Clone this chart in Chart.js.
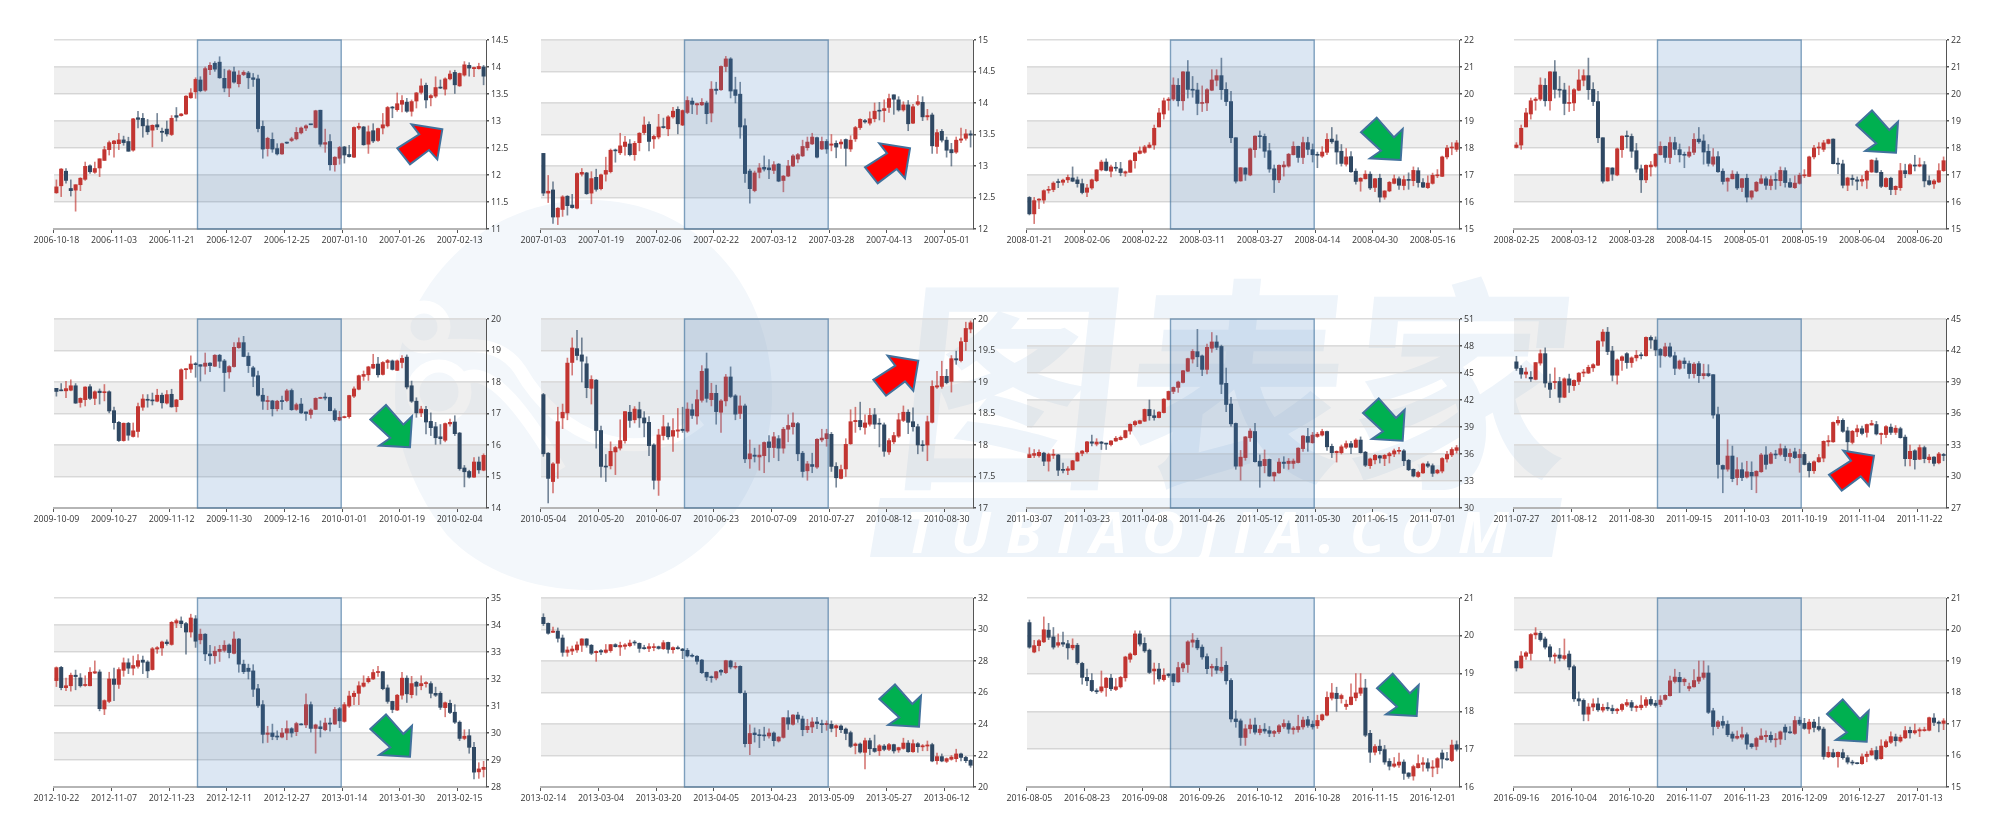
<!DOCTYPE html>
<html>
<head>
<meta charset="utf-8">
<title>K-line panels</title>
<script src="https://cdn.jsdelivr.net/npm/chart.js@4/dist/chart.umd.min.js"></script>
<style>
  html, body { margin: 0; padding: 0; background: #fff; width: 2000px; height: 828px; overflow: hidden; }
  canvas { position: absolute; }
  svg { position: absolute; left: 0; top: 0; }
</style>
</head>
<body>
<svg width="2000" height="828">
  <path d="M590 200 C700 200 772 290 772 395 C772 500 690 590 590 590 C530 590 480 570 447 535 C420 500 395 450 395 395 C395 290 480 200 590 200 Z" fill="#f3f7fb"/>
  <g fill="none" stroke="#fff" stroke-width="13">
    <circle cx="424" cy="327" r="20"/>
    <circle cx="439" cy="392" r="26"/>
    <path d="M432 346 C470 345 500 340 520 370 C560 440 640 470 700 420"/>
    <path d="M462 380 C490 360 530 420 560 470"/>
  </g>
  <g fill="#eef4fa">
    <text x="880" y="470" font-family="Noto Sans CJK SC" font-weight="700" font-size="225" transform="translate(60 0) skewX(-6)">图表家</text>
    <path d="M880 498 H1562 L1552 557 H870 Z"/>
  </g>
  <text x="905" y="553" font-family="Open Sans" font-style="italic" font-weight="700" font-size="58" letter-spacing="15" fill="#fff">TUBIAOJIA.COM</text>
</svg>
<div id="charts"></div>
<svg id="arrows" width="2000" height="828"></svg>
<script>
// open, close, low, high per trading day
const candles2006 = [
[11.67,11.78,11.66,11.91],[11.8,12.11,11.6,12.12],[12.07,11.9,11.85,12.12],[11.75,11.71,11.61,11.91],[11.72,11.82,11.33,11.82],[11.82,11.94,11.71,11.95],[11.92,12.16,11.9,12.24],[12.17,12.06,12.03,12.19],[12.05,12.12,12.03,12.24],[12.13,12.3,11.97,12.3],
[12.27,12.47,12.27,12.53],[12.47,12.6,12.37,12.63],[12.58,12.63,12.33,12.64],[12.58,12.65,12.47,12.77],[12.65,12.6,12.55,12.72],[12.62,12.44,12.44,12.7],[12.46,13.04,12.44,13.05],[13.06,13.03,12.87,13.18],[13.05,12.91,12.7,13.14],[12.91,12.8,12.75,13.03],
[12.83,12.92,12.52,12.93],[12.93,12.89,12.84,13.14],[12.81,12.79,12.62,12.87],[12.85,12.76,12.72,13],[12.75,13.05,12.73,13.1],[13.1,13.07,13,13.25],[13.1,13.13,13.09,13.14],[13.13,13.46,13.12,13.47],[13.43,13.52,13.42,13.6],[13.54,13.77,13.42,13.8],
[13.76,13.56,13.54,13.82],[13.57,13.97,13.55,14],[13.95,14.03,13.86,14.08],[14.07,13.96,13.92,14.1],[14.09,13.8,13.79,14.19],[13.79,13.61,13.54,13.96],[13.61,13.93,13.45,13.95],[13.91,13.72,13.7,14],[13.69,13.85,13.63,13.93],[13.86,13.9,13.84,13.93],
[13.89,13.8,13.6,13.92],[13.8,13.77,13.64,13.88],[13.78,12.86,12.8,13.85],[12.9,12.48,12.31,13],[12.49,12.68,12.35,12.7],[12.66,12.48,12.42,12.78],[12.49,12.39,12.37,12.58],[12.39,12.58,12.38,12.59],[12.6,12.59,12.58,12.61],[12.64,12.67,12.62,12.7],
[12.67,12.79,12.65,12.88],[12.78,12.87,12.76,12.89],[12.87,12.91,12.82,12.93],[12.94,12.93,12.93,12.94],[12.88,13.19,12.87,13.2],[13.2,12.57,12.53,13.2],[12.57,12.6,12.42,12.85],[12.62,12.19,12.09,12.75],[12.19,12.33,12.07,12.34],[12.31,12.51,12.2,12.53],
[12.52,12.37,12.22,12.53],[12.38,12.34,12.33,12.55],[12.33,12.88,12.32,12.89],[12.87,12.9,12.84,12.96],[12.89,12.56,12.55,12.9],[12.57,12.8,12.4,12.91],[12.82,12.63,12.6,12.95],[12.64,12.86,12.62,12.87],[12.87,12.93,12.76,13.14],[12.91,13.25,12.89,13.27],
[13.25,13.24,13.06,13.27],[13.21,13.32,13.18,13.52],[13.31,13.38,13.17,13.47],[13.35,13.18,13.16,13.42],[13.18,13.36,13.09,13.39],[13.37,13.52,13.24,13.53],[13.53,13.65,13.5,13.78],[13.66,13.39,13.24,13.7],[13.43,13.47,13.28,13.49],[13.46,13.62,13.43,13.82],
[13.62,13.61,13.6,13.76],[13.59,13.78,13.48,13.8],[13.78,13.87,13.76,13.93],[13.9,13.67,13.51,13.94],[13.65,13.88,13.64,13.89],[13.85,14.04,13.83,14.1],[14.03,13.98,13.83,14.08],[13.97,13.99,13.82,14],[13.97,14.01,13.96,14.07],[14,13.83,13.67,14.03],
[13.84,14.22,13.7,14.34],[14.22,14.2,14.14,14.33],[14.21,14.58,14.2,14.59],[14.58,14.7,14.5,14.74],[14.7,14.19,14.08,14.72],[14.21,14.12,14,14.41],[14.14,13.62,13.44,14.33],[13.64,12.88,12.74,13.75],[12.92,12.64,12.41,12.95],[12.61,12.89,12.59,12.92],
[12.9,12.97,12.81,13.04],[12.98,12.95,12.92,13.16],[12.97,12.94,12.8,13.1],[12.93,13.02,12.88,13.07],[13.03,12.76,12.75,13.04],[12.77,12.84,12.59,12.85],[12.84,13,12.83,13.09],[13,13.16,12.99,13.18],[13.11,13.18,13.05,13.2],[13.16,13.31,13.15,13.41],
[13.29,13.38,13.25,13.46],[13.35,13.46,13.34,13.52],[13.45,13.14,13.13,13.46],[13.27,13.39,13.26,13.46],[13.39,13.27,13.2,13.42],[13.33,13.35,13.24,13.5],[13.36,13.3,13.13,13.4],[13.35,13.38,13.28,13.42],[13.42,13.28,13,13.43],[13.27,13.41,13.23,13.48],
[13.43,13.61,13.39,13.63],[13.61,13.74,13.58,13.75],[13.72,13.7,13.68,13.74],[13.68,13.75,13.65,13.86],[13.75,13.87,13.7,14],[13.88,13.87,13.73,14.01],[13.88,13.91,13.7,14.05],[13.93,14.07,13.85,14.14],[14.13,14.06,13.82,14.13],[14.05,13.89,13.87,14.1],
[13.89,13.97,13.87,14.02],[13.97,13.67,13.56,14.04],[13.68,13.94,13.67,13.98],[13.98,14.02,13.96,14.12],[14.01,13.78,13.72,14.1],[13.78,13.8,13.73,13.9],[13.81,13.32,13.2,13.84],[13.31,13.53,13.2,13.58],[13.55,13.41,13.38,13.58],[13.41,13.25,13.14,13.46],
[13.26,13.21,13,13.36],[13.22,13.41,13.2,13.46],[13.41,13.43,13.37,13.6],[13.44,13.51,13.41,13.58],[13.51,13.49,13.3,13.56]
];
const candles2008 = [
[16.17,15.56,15.52,16.2],[15.56,16.05,15.2,16.17],[16.07,16.1,15.75,16.13],[16.07,16.42,15.95,16.45],[16.43,16.47,16.33,16.58],[16.46,16.7,16.38,16.75],[16.75,16.72,16.53,16.85],[16.73,16.81,16.62,16.85],[16.82,16.91,16.72,17],[16.89,16.77,16.75,17.3],
[16.82,16.68,16.55,16.93],[16.68,16.35,16.3,16.85],[16.36,16.52,16.2,16.65],[16.52,16.82,16.47,16.85],[16.79,17.19,16.75,17.2],[17.19,17.48,17.15,17.55],[17.48,17.17,17.15,17.6],[17.14,17.3,16.93,17.37],[17.28,17.25,17.15,17.47],[17.23,17.09,16.97,17.47],
[17.07,17.12,16.95,17.15],[17.1,17.53,17.1,17.56],[17.53,17.82,17.25,17.83],[17.8,17.89,17.78,18.04],[17.84,18.04,17.8,18.1],[18.02,18.11,18,18.2],[18.11,18.73,17.95,18.85],[18.78,19.3,18.78,19.47],[19.26,19.75,19.07,19.85],[19.76,19.81,19.4,19.87],
[19.81,20.33,19.75,20.6],[20.32,19.75,19.55,20.57],[19.75,20.82,19.4,20.83],[20.82,20.17,19.85,21.24],[20.17,20.14,19.88,20.65],[20.15,19.65,19.23,20.4],[19.65,19.68,19.35,20.3],[19.67,20.16,19.38,20.2],[20.14,20.52,20.12,20.9],[20.51,20.68,20.3,20.9],
[20.68,20.16,19.8,21.33],[20.17,19.72,19.57,20.42],[19.72,18.38,18.2,20.1],[18.38,16.77,16.7,18.38],[16.78,17.27,16.77,17.27],[17.26,17.03,16.8,17.27],[17,17.97,16.97,18],[17.94,18.44,17.65,18.45],[18.44,18.42,18,18.63],[18.43,17.88,17.65,18.52],
[17.9,17.22,17.1,18.17],[17.23,16.82,16.35,17.37],[16.82,17.36,16.72,17.38],[17.3,17.37,16.96,17.5],[17.33,17.77,17.29,17.8],[17.75,18.06,17.74,18.23],[18.06,17.65,17.47,18.07],[17.65,18.2,17.42,18.4],[18.2,17.95,17.75,18.4],[17.94,17.75,17.48,18.15],
[17.76,17.73,17.27,17.85],[17.7,17.85,17.65,18.05],[17.84,18.32,17.75,18.53],[18.33,18.23,18.17,18.76],[18.26,17.85,17.4,18.49],[17.88,17.43,17.33,18.13],[17.4,17.67,17.33,17.98],[17.68,17.12,17.1,17.87],[17.14,16.76,16.66,17.23],[16.77,16.88,16.4,16.9],
[16.86,17.03,16.85,17.16],[17.03,16.52,16.46,17.12],[16.54,16.86,16.38,16.88],[16.88,16.18,16,17.03],[16.18,16.41,16.1,16.42],[16.41,16.73,16.38,16.76],[16.69,16.86,16.67,17],[16.86,16.62,16.47,16.93],[16.61,16.83,16.45,16.97],[16.83,16.8,16.47,17.08],
[16.79,17.17,16.6,17.3],[17.16,16.72,16.55,17.27],[16.72,16.55,16.53,16.87],[16.53,16.7,16.5,16.97],[16.69,16.99,16.66,17.07],[16.97,17,16.9,17.2],[16.95,17.67,16.94,17.7],[17.67,18,17.6,18.1],[18,18.01,17.75,18.2],[17.95,18.19,17.87,18.28],
[18.17,18.31,18.15,18.33],[18.33,17.42,17.41,18.34],[17.42,17.4,17.05,17.63],[17.41,16.62,16.52,17.55],[16.62,16.89,16.42,16.92],[16.88,16.83,16.62,17],[16.82,16.77,16.45,16.93],[16.77,16.84,16.6,16.98],[16.81,17.14,16.5,17.18],[17.11,17.55,17.1,17.57],
[17.53,17.1,17.08,17.63],[17.1,16.58,16.53,17.17],[16.57,16.87,16.55,16.9],[16.88,16.46,16.27,16.92],[16.46,16.58,16.27,16.6],[16.53,17.16,16.43,17.43],[17.16,17.05,16.9,17.4],[17.04,17.38,17.03,17.42],[17.37,17.33,17.15,17.73],[17.33,17.38,17.3,17.63],
[17.38,16.78,16.56,17.5],[16.79,16.65,16.62,16.97],[16.67,16.78,16.5,16.83],[16.74,17.16,16.72,17.42],[17.16,17.53,17.13,17.67]
];
const candles2009 = [
[17.8,17.7,17.55,17.8],[17.74,17.72,17.72,17.95],[17.72,17.79,17.5,18.02],[17.74,17.88,17.72,18.07],[17.88,17.33,17.32,17.95],[17.35,17.48,17.2,17.5],[17.44,17.84,17.24,17.85],[17.85,17.48,17.44,17.92],[17.48,17.69,17.28,17.72],[17.71,17.66,17.3,17.78],
[17.66,17.69,17.4,17.92],[17.69,17.08,17.02,17.72],[17.09,16.71,16.5,17.2],[16.72,16.14,16.11,16.75],[16.14,16.69,16.12,16.7],[16.69,16.31,16.15,16.72],[16.27,16.45,16.25,16.7],[16.43,17.22,16.25,17.33],[17.2,17.46,17.1,17.6],[17.45,17.42,17.2,17.6],
[17.42,17.4,17.27,17.65],[17.39,17.58,17.37,17.77],[17.58,17.34,17.17,17.65],[17.33,17.6,17.3,17.73],[17.61,17.21,17.2,17.77],[17.22,17.43,17.05,17.45],[17.44,18.39,17.43,18.42],[18.39,18.42,18.1,18.43],[18.41,18.57,18.3,18.83],[18.57,18.55,18.15,18.62],
[18.55,18.5,18.03,18.55],[18.5,18.6,18.25,18.92],[18.6,18.52,18.33,18.62],[18.5,18.85,18.49,18.87],[18.85,18.66,18.45,18.88],[18.67,18.3,17.7,18.72],[18.32,18.49,18.12,18.52],[18.49,19.1,18.47,19.25],[19.09,19.25,19.07,19.4],[19.25,18.81,18.8,19.45],
[18.82,18.52,18.3,18.93],[18.45,18.18,17.85,18.5],[18.2,17.58,17.55,18.35],[17.58,17.39,17.13,17.8],[17.38,17.41,17.12,17.55],[17.4,17.15,16.92,17.42],[17.15,17.39,17.08,17.42],[17.4,17.38,17.13,17.55],[17.41,17.72,17.37,17.77],[17.73,17.12,17.1,17.78],
[17.13,17.28,17.1,17.33],[17.3,17.02,17,17.48],[17.05,17,16.78,17.05],[16.97,17.11,16.85,17.15],[17.13,17.48,17.12,17.5],[17.48,17.5,17.47,17.52],[17.52,17.49,17.43,17.65],[17.51,17.09,17.08,17.52],[17.09,16.8,16.75,17.15],[16.79,16.88,16.77,17.07],
[16.87,16.9,16.86,16.92],[16.9,17.57,16.85,17.58],[17.55,17.78,17.5,17.85],[17.77,18.2,17.75,18.22],[18.18,18.24,18.05,18.35],[18.23,18.48,18.05,18.5],[18.44,18.56,18.42,18.88],[18.57,18.23,18.15,18.78],[18.24,18.62,18.22,18.65],[18.62,18.68,18.43,18.72],
[18.67,18.4,18.38,18.7],[18.37,18.67,18.36,18.7],[18.62,18.75,18.45,18.84],[18.79,17.84,17.78,18.86],[17.88,17.39,17.35,18.03],[17.39,17.02,16.88,17.5],[17.02,17.14,16.9,17.23],[17.13,16.73,16.35,17.23],[16.75,16.55,16.3,17.02],[16.58,16.23,16.02,16.72],
[16.26,16.2,16.03,16.65],[16.15,16.68,16.1,16.7],[16.67,16.72,16.6,16.82],[16.73,16.36,16.3,16.93],[16.38,15.25,15.2,16.4],[15.27,15.15,14.67,15.35],[15.16,14.98,14.95,15.2],[14.98,15.46,14.97,15.6],[15.46,15.21,15.1,15.62],[15.2,15.67,15.18,15.72]
];
const candles2010 = [
[18.8,17.86,17.82,18.82],[17.87,17.47,17.08,17.88],[17.42,17.7,17.24,17.72],[17.71,18.37,17.47,18.6],[18.43,18.52,18.26,18.65],[18.51,19.3,18.4,19.38],[19.31,19.54,19.11,19.7],[19.53,19.42,19.35,19.82],[19.43,19.33,19,19.7],[19.29,18.91,18.75,19.4],
[18.9,19.04,18.65,19.1],[19.03,18.23,17.95,19.04],[18.23,17.66,17.49,18.3],[17.66,17.65,17.42,17.85],[17.67,17.9,17.62,18.05],[17.89,17.96,17.53,17.98],[17.95,18.07,17.92,18.4],[18.07,18.53,18.03,18.53],[18.52,18.39,18.28,18.63],[18.4,18.57,18.35,18.61],
[18.56,18.43,18.28,18.68],[18.43,18.35,18.13,18.53],[18.36,17.99,17.83,18.45],[18,17.44,17.3,18.02],[17.44,18.16,17.2,18.25],[18.15,18.29,18.08,18.47],[18.29,18.13,18.09,18.35],[18.14,18.23,17.9,18.42],[18.22,18.24,18.12,18.58],[18.25,18.23,18.2,18.6],
[18.22,18.57,18.2,18.67],[18.56,18.47,18.42,18.65],[18.46,18.72,18.33,18.87],[18.71,19.17,18.68,19.26],[19.21,18.74,18.68,19.46],[18.72,18.82,18.62,18.98],[18.82,18.53,18.33,18.95],[18.52,18.7,18.2,18.72],[18.7,19.08,18.62,19.12],[19.08,18.77,18.75,19.24],
[18.78,18.49,18.4,18.8],[18.5,18.62,18.42,18.78],[18.62,17.78,17.72,18.65],[17.78,17.86,17.63,18.08],[17.84,17.82,17.73,17.95],[17.81,17.84,17.6,18],[17.83,18.04,17.56,18.05],[18.05,17.96,17.73,18.15],[17.96,18.13,17.8,18.2],[18.1,17.95,17.75,18.15],
[17.95,18.25,17.87,18.28],[18.25,18.31,18.05,18.48],[18.29,18.35,18.17,18.51],[18.34,17.86,17.75,18.36],[17.87,17.58,17.49,17.9],[17.59,17.7,17.44,17.74],[17.69,17.66,17.56,17.87],[17.65,18.09,17.63,18.1],[18.08,18.11,18.05,18.25],[18.1,18.18,17.98,18.25],
[18.17,17.66,17.58,18.2],[17.66,17.48,17.33,17.72],[17.47,17.61,17.46,17.68],[17.62,18.01,17.5,18.1],[18.02,18.37,18.01,18.56],[18.37,18.39,18.2,18.6],[18.39,18.29,18.24,18.68],[18.28,18.35,18.17,18.48],[18.33,18.47,18.3,18.58],[18.48,18.33,18.26,18.58],
[18.34,18.33,17.97,18.42],[18.32,17.9,17.82,18.35],[17.89,18.07,17.85,18.1],[18.05,18.15,18.02,18.2],[18.14,18.4,18.12,18.5],[18.39,18.52,18.37,18.62],[18.52,18.36,18.18,18.56],[18.37,18.29,18.22,18.59],[18.29,18,17.86,18.33],[18,17.99,17.9,18.07],
[18,18.37,17.75,18.46],[18.36,18.93,18.35,19.02],[18.92,18.94,18.9,19.17],[18.93,19.09,18.9,19.33],[19.09,18.99,18.97,19.2],[19.01,19.37,18.84,19.42],[19.37,19.35,19.28,19.49],[19.34,19.64,19.32,19.7],[19.64,19.85,19.5,19.95],[19.84,19.94,19.78,19.97]
];
const candles2011a = [
[35.6,35.93,35.6,36.7],[35.85,36.05,35.6,36.5],[35.82,36.18,35.65,36.45],[36.1,35.2,34.7,36.2],[35.2,35.95,34.1,36.1],[35.85,35.97,35.5,36.5],[35.9,34.2,33.6,35.95],[34.25,34.18,33.9,35],[34.18,34.35,33.7,34.6],[34.25,35.25,34.2,35.3],
[35.22,36.1,35.2,36.2],[36.07,36.33,35.8,36.4],[36.25,37.35,36.1,37.4],[37.35,37.2,36.9,38.1],[37.1,37.33,36.9,37.7],[37.33,37.18,36.5,37.4],[37.18,37.1,36.5,37.2],[37.05,37.45,36.9,37.5],[37.44,37.75,37.4,37.95],[37.6,37.85,37.55,38],
[37.83,38.6,37.75,38.65],[38.55,39.3,38.2,39.35],[39.26,39.6,39.1,39.7],[39.4,39.7,39.35,39.75],[39.65,40.95,39.6,41],[40.95,40.25,39.75,42],[40.25,40.05,39.75,40.9],[40.05,40.65,40,40.7],[40.6,42.1,40.55,42.15],[42.05,42.95,42,43],
[42.95,43.4,42.7,43.45],[43.4,44,42.85,44.1],[43.95,45.25,43.9,45.3],[45.2,46.6,45.15,46.65],[46.55,47.4,46.1,47.6],[47.37,46.8,45.7,49.85],[46.9,45.4,44.7,47],[45.4,47.85,44.9,48.2],[47.75,48.45,47.3,49.5],[48.45,47.85,47.6,49.15],
[47.95,43.75,42.7,48.1],[43.85,41.5,40.7,45.55],[41.55,39.35,39.1,42.3],[39.4,34.65,34.3,39.45],[34.65,35.65,33.1,36.4],[35.6,37.9,35.3,37.95],[37.8,38.55,37.4,38.8],[38.5,35.15,35.1,39.4],[35.2,34.65,32.3,35.9],[34.7,35.4,33.9,36.45],
[35.4,33.55,33.5,35.45],[33.55,33.95,33,34],[33.9,35.1,33.85,35.5],[35.1,34.95,34.4,35.7],[34.95,35.2,34.3,35.5],[34.95,35.22,34.4,35.45],[35.05,36.65,35,36.7],[36.6,38,36.3,38.05],[37.95,37.3,36.3,38.85],[37.25,38.1,37.2,38.4],
[37.95,38.2,37.85,38.4],[38.1,38.5,38,38.75],[38.5,36.8,36.4,38.55],[36.85,36.15,35.6,37.1],[36.15,36.3,35.1,36.35],[36.15,36.8,36,37],[36.75,37.15,36.6,37.45],[37.15,36.75,36.05,37.4],[36.75,37.55,36.7,37.7],[37.55,36.15,36.1,37.9],
[36.2,34.75,34.6,36.3],[34.7,35.45,34.4,35.55],[35.35,35.85,34.9,35.95],[35.8,35.55,35,35.85],[35.5,35.85,34.7,35.95],[35.8,36.05,35,36.2],[36,36.35,35.7,36.55],[36.3,36.4,36,36.75],[36.35,35.25,34.7,36.5],[35.3,34.25,34.15,35.4],
[34.3,33.55,33.45,34.35],[33.5,33.95,33.4,34.1],[33.9,34.9,33.85,35],[34.9,34.65,34.5,35.15],[34.7,33.85,33.5,34.9],[33.9,34.2,33.8,34.3],[34.1,35.5,33.9,35.6],[35.45,35.95,35.1,36.3],[35.9,36.5,35.7,36.7],[36.4,36.7,36.1,36.95]
];
const candles2011b = [
[40.92,40.3,40.1,41.45],[40.3,39.75,39.35,40.55],[39.75,39.95,39.4,40.35],[39.45,39.3,39.05,40],[39.25,40.85,39.2,40.85],[40.8,41.7,40.6,42.05],[41.7,38.9,38.5,42.25],[38.9,38.3,37.5,39.75],[38.95,39.05,38.35,40.35],[39.05,37.55,37.05,39.45],
[37.55,39.3,37.5,39.4],[39.3,38.7,38,39.75],[38.65,39.15,38.2,39.2],[39.05,39.85,38.75,39.9],[39.85,39.95,39.5,40.2],[39.85,40.4,39.8,40.6],[40.35,40.65,40,40.75],[40.6,42.9,40.55,42.95],[42.9,43.75,42.4,44],[43.75,41.9,41.6,44.2],
[41.95,39.65,39.1,42.4],[39.65,41.1,38.8,41.2],[41.05,41.4,40.1,41.5],[41.7,40.85,40.3,41.8],[40.85,41.3,40.4,41.4],[41.3,41.55,41,42],[41.55,41.5,41.2,41.8],[41.5,43.25,41.45,43.3],[43.25,43,42.2,43.4],[43,42.05,41.5,43.3],
[42.1,41.55,40.4,42.2],[41.5,42.35,41.4,42.7],[42.35,41.45,41.35,42.7],[41.5,40.3,39.7,41.85],[40.3,41,40.2,41.1],[41,40.75,40.3,41.3],[40.75,39.8,39.35,41],[39.8,40.7,39.4,40.85],[40.75,39.6,38.95,40.95],[39.6,39.8,39.3,40.7],
[39.8,39.6,39.5,40.65],[39.7,35.85,35.55,39.7],[35.9,31.15,29.85,36.6],[31.05,30.7,28.45,31.1],[30.7,31.95,30.5,33.5],[31.95,29.8,29.5,32.9],[29.9,30.65,29.2,31.8],[30.65,29.9,29.6,31.3],[29.95,30.45,29.85,31.45],[30.4,30.05,28.75,31.4],
[30.05,30.5,28.45,30.55],[30.45,32.05,30.4,32.2],[32.05,31.15,30.7,32.85],[31.25,32.15,31.2,32.3],[32.1,32.05,31.7,32.5],[32.1,32.65,31.95,33.1],[32.65,31.9,31.5,32.9],[31.9,32.2,31.3,32.6],[32.35,31.8,31.7,32.7],[31.8,32.1,30.4,32.6],
[32.1,31.15,31.1,32.3],[31.25,30.55,29.95,31.4],[30.55,31.4,30.3,31.5],[31.4,31.8,31.35,32.1],[31.75,33.35,31.4,33.4],[33.3,33.42,32.9,33.9],[33.3,35.15,33.25,35.2],[35.1,35.35,34.9,35.7],[35.35,34.3,34.2,35.5],[34.35,33.3,32,34.7],
[33.25,34.3,33.1,34.4],[34.25,34.55,33.8,34.9],[34.55,34.1,33.95,34.8],[34.2,34.95,33.75,35],[34.9,35.05,34.9,35.35],[34.95,34.05,33.95,35.25],[34,34.1,33.1,34.15],[34,34.75,33.7,34.85],[34.7,34.2,34,35],[34.2,34.6,34,34.85],
[34.55,33.7,33.65,34.7],[33.75,31.7,31,33.95],[31.7,32.4,31,33],[32.45,31.6,30.7,32.55],[31.65,32.75,31.6,33],[32.75,31.7,31.3,32.9],[31.6,31.85,31.3,32.1],[31.85,31.25,31,31.9],[31.3,32.15,31.2,32.3],[32.1,32,31.5,32.2]
];
const candles2012 = [
[31.94,32.42,31.72,32.45],[32.43,31.68,31.6,32.47],[31.68,31.75,31.57,32.03],[31.75,32.14,31.55,32.22],[32.14,32.09,31.6,32.33],[32.04,31.75,31.7,32.2],[31.76,31.78,31.73,32.12],[31.75,32.25,31.74,32.42],[32.22,32.27,32.2,32.67],[32.26,30.9,30.82,32.34],
[30.89,31.2,30.68,31.23],[31.17,32,31.12,32.25],[32,31.8,31.2,32.4],[31.8,32.35,31.65,32.42],[32.32,32.6,32.1,32.78],[32.6,32.4,32.2,32.75],[32.4,32.5,32.15,32.85],[32.47,32.68,32.4,32.9],[32.7,32.62,32.2,32.85],[32.63,32.3,32.05,32.68],
[32.35,33.12,32.33,33.17],[33.11,33.16,32.95,33.2],[33.15,33.37,32.87,33.4],[33.37,33.31,33.25,33.45],[33.28,34.1,33.25,34.13],[34.07,34.16,33.9,34.22],[34.15,34.05,33.9,34.3],[34.05,33.74,32.92,34.1],[33.74,34.26,33.55,34.4],[34.23,33.4,33.17,34.35],
[33.45,33.66,33.3,33.85],[33.66,32.93,32.68,33.68],[32.93,32.86,32.55,33.25],[32.86,33.03,32.58,33.2],[33.02,33.1,32.65,33.25],[33.06,33.25,33,33.42],[33.26,32.98,32.78,33.3],[32.95,33.48,32.93,33.75],[33.48,32.55,32.25,33.5],[32.55,32.27,32.2,32.7],
[32.4,32.28,32,32.55],[32.3,31.62,31.35,32.53],[31.64,31.02,30.95,31.8],[31.05,29.95,29.63,31.2],[29.95,30,29.65,30.25],[30,29.87,29.75,30.33],[29.87,29.85,29.75,30.08],[29.85,30,29.82,30.17],[30,30.16,29.75,30.45],[30.16,30,29.85,30.2],
[30.05,30.35,29.9,30.4],[30.33,30.3,30.3,30.35],[30.3,31.05,30.2,31.45],[31.05,30.17,30.03,31.15],[30.17,30.3,29.25,30.33],[30.23,30.16,29.85,30.45],[30.12,30.37,30.08,30.55],[30.37,30.33,30.07,30.55],[30.33,30.87,30.32,30.95],[30.9,30.45,30.2,30.95],
[30.43,31.05,30.4,31.13],[31,31.37,30.95,31.55],[31.35,31.47,31.05,31.55],[31.47,31.75,31.05,31.9],[31.73,31.85,31.7,32.12],[31.9,32.02,31.85,32.1],[32,32.24,31.98,32.35],[32.24,32.27,32.1,32.47],[32.27,31.64,31.6,32.28],[31.67,31.17,31.1,31.78],
[31.17,30.87,30.75,31.18],[30.85,31.4,30.83,31.43],[31.4,32.03,31.25,32.25],[32.03,31.45,31.13,32.12],[31.42,31.83,31.3,32.1],[31.88,31.73,31.4,31.92],[31.75,31.83,31.6,32.12],[31.83,31.85,31.7,31.9],[31.83,31.47,31.3,31.9],[31.47,31.4,31.35,31.7],
[31.47,30.95,30.87,31.53],[30.94,31.12,30.6,31.15],[31.1,30.76,30.72,31.22],[30.77,30.4,30.35,31.05],[30.4,29.8,29.72,30.45],[29.8,29.88,29.75,30.12],[29.9,29.47,29.25,30.13],[29.47,28.55,28.3,29.65],[28.56,28.67,28.32,28.9],[28.65,28.73,28.37,28.95]
];
const candles2013 = [
[30.77,30.37,30.25,31],[30.39,29.76,29.7,30.42],[29.82,29.9,29.8,30.15],[29.9,29.44,29.2,30.1],[29.46,28.55,28.3,29.65],[28.55,28.7,28.3,28.9],[28.63,28.76,28.4,28.95],[28.7,29.02,28.55,29.22],[29,29.4,28.6,29.42],[29.4,29,28.87,29.42],
[29,28.49,28.4,29.05],[28.53,28.61,27.98,28.65],[28.66,28.57,28.4,28.72],[28.55,28.7,28.5,29.05],[28.66,29.04,28.55,29.05],[29.04,28.91,28.88,29.1],[28.89,28.99,28.35,29.2],[28.93,29.02,28.75,29.1],[28.97,29.14,28.9,29.33],[29.18,29.14,29,29.3],
[29.12,28.8,28.55,29.15],[28.85,28.78,28.75,29],[28.8,28.91,28.6,29.1],[28.85,28.91,28.65,29.1],[28.91,28.8,28.75,28.95],[28.78,29.16,28.73,29.3],[29.18,28.74,28.5,29.2],[28.72,28.85,28.5,28.9],[28.85,28.78,28.75,28.95],[28.76,28.66,28.15,28.8],
[28.68,28.32,28.25,28.8],[28.36,28.3,28.25,28.45],[28.3,27.98,27.8,28.35],[28.06,27.26,27.2,28.1],[27.28,26.98,26.75,27.3],[27,26.94,26.65,27.05],[26.92,27.32,26.8,27.35],[27.41,27.3,27.1,27.45],[27.26,28.02,27.2,28.05],[28,27.62,27.5,28.05],
[27.6,27.66,27.5,27.9],[27.66,25.99,25.95,27.7],[25.95,22.75,22.55,26.1],[22.75,23.4,22.05,23.95],[23.43,23.32,22.85,23.75],[23.32,23.26,22.5,23.65],[23.3,23.24,22.95,23.8],[23.24,23.43,23.1,23.7],[23.43,22.94,22.6,23.5],[22.92,23.17,22.85,23.2],
[23.15,24.4,23.1,24.42],[24.4,24,23.65,24.85],[23.98,24.57,23.93,24.6],[24.57,24.32,24.1,24.75],[24.32,23.64,23.25,24.5],[23.64,23.85,23.45,24.3],[23.81,24.13,23.45,24.4],[24.13,24.02,23.7,24.42],[24.02,23.96,23.45,24.25],[23.96,24.04,23.6,24.2],
[23.98,23.72,23.5,24.2],[23.75,23.89,23.2,23.95],[23.87,23.64,23.45,23.95],[23.68,23.4,23,23.75],[23.45,22.58,22.5,23.55],[22.63,22.73,22.1,22.8],[22.73,22.22,22.15,22.8],[22.2,22.94,21.15,23.1],[22.94,22.43,22.05,23.1],[22.45,22.26,22.2,23.3],
[22.3,22.62,22,22.7],[22.6,22.39,22.3,22.7],[22.39,22.69,22.3,22.78],[22.69,22.29,22.15,22.72],[22.35,22.5,22.2,22.53],[22.45,22.79,22.4,23.1],[22.79,22.24,22.2,22.95],[22.24,22.75,22.2,23],[22.75,22.56,22.2,22.82],[22.55,22.62,22.3,22.7],
[22.6,22.67,22.3,22.92],[22.69,21.65,21.6,22.78],[21.67,21.93,21.45,22.15],[21.93,21.65,21.6,22.1],[21.63,21.8,21.55,21.85],[21.76,21.9,21.7,22],[21.8,22.1,21.6,22.4],[22.1,21.88,21.65,22.15],[21.88,21.67,21.55,21.95],[21.69,21.38,21.25,21.75]
];
const candles2016 = [
[20.35,19.7,19.67,20.42],[19.57,19.74,19.55,19.88],[19.74,19.87,19.6,19.9],[19.84,20.16,19.82,20.5],[20.15,19.96,19.9,20.33],[19.97,19.7,19.65,20.22],[19.75,19.82,19.7,20.05],[19.82,19.78,19.72,20.1],[19.79,19.68,19.38,19.88],[19.68,19.75,19.63,19.92],
[19.75,19.29,19.25,19.8],[19.27,18.9,18.72,19.3],[18.9,18.81,18.68,19.12],[18.82,18.55,18.52,19],[18.55,18.52,18.47,18.6],[18.54,18.65,18.5,19.07],[18.63,18.88,18.4,18.9],[18.88,18.6,18.55,18.98],[18.58,18.65,18.55,18.87],[18.65,18.9,18.62,18.93],
[18.89,19.44,18.8,19.46],[19.38,19.52,19.3,19.55],[19.5,20.05,19.48,20.13],[20.05,19.78,19.73,20.13],[19.8,19.6,19.56,19.95],[19.62,19.03,19,19.65],[19.07,19.12,18.72,19.28],[19.12,18.86,18.8,19.27],[18.84,18.96,18.8,19.13],[18.99,18.95,18.9,19],
[18.99,18.78,18.68,19],[18.78,19.16,18.77,19.3],[19.15,19.26,19.05,19.3],[19.24,19.84,19.03,19.87],[19.83,19.89,19.7,20.06],[19.88,19.68,19.63,19.94],[19.7,19.44,19.38,19.76],[19.45,19.13,19,19.52],[19.15,19.19,18.93,19.25],[19.19,19.09,19,19.4],
[19.08,19.17,19.03,19.7],[19.22,18.81,18.72,19.32],[18.82,17.8,17.72,18.87],[17.8,17.73,17.58,18.02],[17.75,17.31,17.1,17.8],[17.31,17.54,17.1,17.65],[17.54,17.64,17.42,17.8],[17.64,17.45,17.4,17.82],[17.44,17.53,17.38,17.63],[17.53,17.48,17.42,17.68],
[17.49,17.42,17.33,17.6],[17.42,17.47,17.33,17.5],[17.46,17.62,17.41,17.65],[17.6,17.68,17.55,17.78],[17.68,17.53,17.42,17.75],[17.52,17.56,17.4,17.6],[17.52,17.6,17.45,17.9],[17.59,17.77,17.53,17.85],[17.78,17.63,17.58,17.87],[17.66,17.59,17.53,17.75],
[17.62,17.76,17.55,17.9],[17.78,17.91,17.75,17.93],[17.9,18.37,17.88,18.52],[18.35,18.49,18.3,18.74],[18.48,18.34,18,18.64],[18.34,18.42,18.22,18.46],[18.13,18.19,18.05,18.3],[18.18,18.38,18.17,18.73],[18.36,18.49,18.28,19],[18.48,18.62,18.42,19],
[18.62,17.37,17.33,18.85],[17.42,16.92,16.65,17.5],[16.92,17.07,16.85,17.12],[17.08,16.96,16.87,17.25],[16.99,16.66,16.6,17.1],[16.68,16.55,16.45,16.75],[16.55,16.61,16.52,16.78],[16.58,16.66,16.52,16.9],[16.66,16.36,16.2,16.72],[16.37,16.28,16.23,16.38],
[16.29,16.54,16.18,16.58],[16.51,16.62,16.5,16.85],[16.6,16.64,16.42,16.78],[16.64,16.5,16.42,16.75],[16.5,16.53,16.27,16.7],[16.52,16.75,16.35,16.78],[16.9,16.74,16.5,16.98],[16.75,16.72,16.7,16.92],[16.7,17.11,16.67,17.24],[17.12,17,16.95,17.22],
[17.02,16.86,16.83,17.18],[16.84,17.06,16.7,17.15],[17.06,16.89,16.75,17.15],[16.92,16.83,16.78,17.22],[16.84,15.97,15.88,16.9],[15.96,16.1,15.93,16.28],[16.09,15.96,15.93,16.2],[15.96,16.1,15.63,16.12],[16.09,15.93,15.88,16.2],[15.93,15.79,15.73,16],
[15.79,15.76,15.7,15.85],[15.76,15.74,15.73,15.77],[15.74,15.96,15.72,16.05],[15.97,16.04,15.8,16.12],[16.02,16.15,16,16.23],[16.16,15.89,15.85,16.28],[15.9,16.3,15.88,16.5],[16.28,16.44,16.25,16.5],[16.42,16.6,16.38,16.75],[16.59,16.47,16.3,16.68],
[16.46,16.58,16.42,16.65],[16.56,16.79,16.54,16.92],[16.8,16.72,16.55,16.9],[16.72,16.79,16.68,17],[16.78,16.82,16.6,16.88],[16.79,16.82,16.77,16.9],[16.8,17.2,16.78,17.22],[17.19,17.05,16.95,17.33],[17.06,17.02,16.75,17.1],[17.02,17.1,16.82,17.17]
];

// x axis labels, one every 12 candles
const dates1 = ["2006-10-18","2006-11-03","2006-11-21","2006-12-07","2006-12-25","2007-01-10","2007-01-26","2007-02-13"];
const dates2 = ["2007-01-03","2007-01-19","2007-02-06","2007-02-22","2007-03-12","2007-03-28","2007-04-13","2007-05-01"];
const dates3 = ["2008-01-21","2008-02-06","2008-02-22","2008-03-11","2008-03-27","2008-04-14","2008-04-30","2008-05-16"];
const dates4 = ["2008-02-25","2008-03-12","2008-03-28","2008-04-15","2008-05-01","2008-05-19","2008-06-04","2008-06-20"];
const dates5 = ["2009-10-09","2009-10-27","2009-11-12","2009-11-30","2009-12-16","2010-01-01","2010-01-19","2010-02-04"];
const dates6 = ["2010-05-04","2010-05-20","2010-06-07","2010-06-23","2010-07-09","2010-07-27","2010-08-12","2010-08-30"];
const dates7 = ["2011-03-07","2011-03-23","2011-04-08","2011-04-26","2011-05-12","2011-05-30","2011-06-15","2011-07-01"];
const dates8 = ["2011-07-27","2011-08-12","2011-08-30","2011-09-15","2011-10-03","2011-10-19","2011-11-04","2011-11-22"];
const dates9 = ["2012-10-22","2012-11-07","2012-11-23","2012-12-11","2012-12-27","2013-01-14","2013-01-30","2013-02-15"];
const dates10 = ["2013-02-14","2013-03-04","2013-03-20","2013-04-05","2013-04-23","2013-05-09","2013-05-27","2013-06-12"];
const dates11 = ["2016-08-05","2016-08-23","2016-09-08","2016-09-26","2016-10-12","2016-10-28","2016-11-15","2016-12-01"];
const dates12 = ["2016-09-16","2016-10-04","2016-10-20","2016-11-07","2016-11-23","2016-12-09","2016-12-27","2017-01-13"];

const panels = [
  { rows: candles2006.slice(0, 90), dates: dates1, min: 11, max: 14.5, step: 0.5 },
  { rows: candles2006.slice(55, 145), dates: dates2, min: 12, max: 15, step: 0.5 },
  { rows: candles2008.slice(0, 90), dates: dates3, min: 15, max: 22, step: 1 },
  { rows: candles2008.slice(25, 115), dates: dates4, min: 15, max: 22, step: 1 },
  { rows: candles2009, dates: dates5, min: 14, max: 20, step: 1 },
  { rows: candles2010, dates: dates6, min: 17, max: 20, step: 0.5 },
  { rows: candles2011a, dates: dates7, min: 30, max: 51, step: 3 },
  { rows: candles2011b, dates: dates8, min: 27, max: 45, step: 3 },
  { rows: candles2012, dates: dates9, min: 28, max: 35, step: 1 },
  { rows: candles2013, dates: dates10, min: 20, max: 32, step: 2 },
  { rows: candles2016.slice(0, 90), dates: dates11, min: 16, max: 21, step: 1 },
  { rows: candles2016.slice(30, 120), dates: dates12, min: 15, max: 21, step: 1 }
];

const plotLeft = [54, 541, 1027, 1514];
const plotTop = [40, 319, 598];
const plotW = 432, plotH = 189;
const padL = 30, padT = 8, axisR = 40, axisB = 22;

const upColor = "#c23531", downColor = "#2f4863";
const upWick = "rgba(194,53,49,0.65)", downWick = "rgba(47,72,99,0.65)";

// alternating grey bands between the y ticks, bottom band stays white
const splitBands = {
  id: "splitBands",
  beforeDatasetsDraw(chart) {
    const { ctx, chartArea: a, scales: { y } } = chart;
    const t = y.ticks;
    ctx.save();
    ctx.fillStyle = "rgba(190,190,190,0.25)";
    for (let i = 1; i < t.length - 1; i += 2) {
      const top = y.getPixelForValue(t[i + 1].value), bot = y.getPixelForValue(t[i].value);
      ctx.fillRect(a.left, top, a.width, bot - top);
    }
    ctx.restore();
  }
};

// the window from candle 30 to candle 60, drawn over the candles
const windowBand = {
  id: "windowBand",
  afterDatasetsDraw(chart) {
    const { ctx, chartArea: a, scales: { x } } = chart;
    const half = (x.getPixelForValue(1) - x.getPixelForValue(0)) / 2;
    const left = x.getPixelForValue(30) - half - 0.5;
    const right = x.getPixelForValue(60) - half - 0.8;
    ctx.save();
    ctx.fillStyle = "rgba(70,130,190,0.19)";
    ctx.fillRect(left, a.top, right - left, a.height);
    ctx.strokeStyle = "rgba(65,113,156,0.65)";
    ctx.lineWidth = 1.4;
    ctx.strokeRect(left, a.top, right - left, a.height);
    ctx.restore();
  }
};

const holder = document.getElementById("charts");
panels.forEach((p, n) => {
  const canvas = document.createElement("canvas");
  canvas.width = padL + plotW + axisR;
  canvas.height = padT + plotH + axisB;
  canvas.style.left = (plotLeft[n % 4] - padL) + "px";
  canvas.style.top = (plotTop[Math.floor(n / 4)] - padT) + "px";
  holder.appendChild(canvas);

  const labels = p.rows.map((r, i) => (i % 12 === 0 ? p.dates[i / 12] : ""));
  const isUp = p.rows.map(r => r[1] >= r[0]);

  new Chart(canvas, {
    type: "bar",
    data: {
      labels: labels,
      datasets: [
        {
          data: p.rows.map(r => [r[2], r[3]]),
          backgroundColor: isUp.map(u => (u ? upWick : downWick)),
          barThickness: 1,
          grouped: false,
          order: 2
        },
        {
          data: p.rows.map(r => [r[0], r[1]]),
          backgroundColor: isUp.map(u => (u ? upColor : downColor)),
          barThickness: 3.4,
          minBarLength: 1,
          grouped: false,
          order: 1
        }
      ]
    },
    plugins: [splitBands, windowBand],
    options: {
      responsive: false,
      animation: false,
      layout: { padding: { left: padL, top: padT, right: 0, bottom: 0 } },
      plugins: { legend: { display: false }, tooltip: { enabled: false } },
      scales: {
        x: {
          type: "category",
          offset: true,
          afterFit: s => { s.height = axisB; },
          border: { color: "#b5b5b5", width: 2 },
          grid: {
            offset: true,
            drawOnChartArea: false,
            tickLength: 4,
            tickColor: c => (c.index % 12 === 0 ? "#555" : "rgba(0,0,0,0)")
          },
          ticks: {
            autoSkip: false,
            maxRotation: 0,
            minRotation: 0,
            padding: 2,
            color: "#333",
            font: { family: "Open Sans", size: 8.8 }
          }
        },
        y: {
          position: "right",
          min: p.min,
          max: p.max,
          afterFit: s => { s.width = axisR; },
          border: { color: "#555", width: 1 },
          grid: { color: "#dcdcdc", lineWidth: 1.5, tickLength: 3, tickColor: "#555" },
          ticks: {
            stepSize: p.step,
            padding: 2,
            color: "#333",
            font: { family: "Open Sans", size: 8.8 },
            callback: v => String(v)
          }
        }
      }
    }
  });
});

// block arrows, placed by their tip
const upArrow = [[0,0],[-30.7,-5],[-23,5],[-45,19],[-32.3,35],[-13.3,20.7],[-5,30]];
const downArrow = [[0,0],[-30.7,-1.7],[-19.7,-9.3],[-39.7,-27.7],[-24,-42.3],[-6.7,-22.7],[2,-31]];
const arrowTips = [
  [442.3,129.3,"up"],[910,148.3,"up"],[1400.7,160,"down"],[1896,152.7,"down"],
  [410,447.3,"down"],[918.3,360.7,"up"],[1402.7,440.7,"down"],[1874,455.7,"up"],
  [410,756.7,"down"],[919,726.7,"down"],[1416.7,716,"down"],[1866.7,741.7,"down"]
];
const svg = document.getElementById("arrows");
arrowTips.forEach(t => {
  const shape = t[2] === "up" ? upArrow : downArrow;
  const poly = document.createElementNS("http://www.w3.org/2000/svg", "polygon");
  poly.setAttribute("points", shape.map(s => (t[0] + s[0]) + "," + (t[1] + s[1])).join(" "));
  poly.setAttribute("fill", t[2] === "up" ? "#ff0000" : "#00b050");
  poly.setAttribute("stroke", "#41719c");
  poly.setAttribute("stroke-width", "2");
  svg.appendChild(poly);
});
</script>
</body>
</html>
